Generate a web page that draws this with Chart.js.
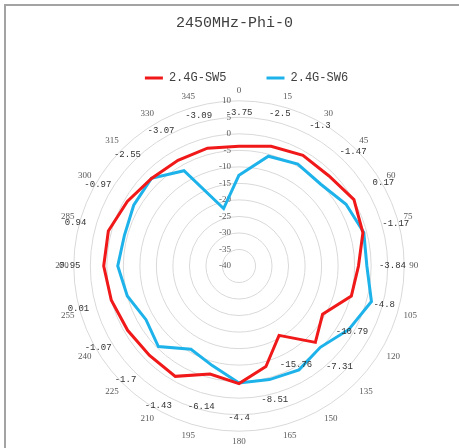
<!DOCTYPE html>
<html lang="en">
<head>
<meta charset="UTF-8">
<meta name="viewport" content="width=device-width, initial-scale=1.0">
<title>2450MHz-Phi-0</title>
<script src="https://cdn.jsdelivr.net/npm/chart.js"></script>
<style>
    html, body {
        margin: 0;
        padding: 0;
        background: #fff;
    }
    body {
        width: 459px;
        height: 448px;
        position: relative;
        overflow: hidden;
    }
    .frame {
        position: absolute;
        left: 4px;
        top: 4px;
        width: 500px;
        height: 500px;
        border-left: 2px solid #a3a3a3;
        border-top: 2px solid #a3a3a3;
    }
    .chart-box {
        position: absolute;
        left: 0;
        top: 0;
        width: 459px;
        height: 448px;
    }
</style>
</head>
<body>
<div class="frame"></div>
<div class="chart-box"><canvas id="phiChart"></canvas></div>

<script>
    // angles in degrees (category axis of the radar)
    const angles = ['0', '15', '30', '45', '60', '75', '90', '105', '120', '135', '150', '165',
                    '180', '195', '210', '225', '240', '255', '270', '285', '300', '315', '330', '345'];

    // gain in dB
    const sw5 = [-3.75, -2.5, -1.3, -1.47, 0.17, -1.17, -3.84, -4.8, -10.79, -7.31, -15.76, -8.51,
                 -4.4, -6.14, -1.43, -1.7, -1.07, 0.01, 0.95, 0.94, -0.97, -2.55, -3.07, -3.09];
    const sw6 = [-12.5, -5.6, -4.4, -5.0, -2.6, -0.9, -1.3, 1.5, -1.6, -5.2, -3.7, -4.4,
                 -4.6, -8.8, -10.9, -5.5, -7.5, -5.0, -3.3, -4.1, -3.2, -2.5, -6.7, -22.0];

    const rMin = -40;
    const rMax = 10;
    const rStep = 5;

    // value labels sit left of the 0 degree axis, data labels pushed out from the red line
    const textPlugin = {
        id: 'polarText',
        beforeInit(chart) {
            const fit = chart.legend.fit;
            chart.legend.fit = function () {
                fit.bind(chart.legend)();
                this.height = 53;
            };
        },
        afterLayout(chart) {
            // legend sits a bit right of the plot centre, title a bit left
            chart.legend.left += 7;
            chart.legend.right += 7;
            chart.titleBlock.left -= 5;
            chart.titleBlock.right -= 5;
        },
        beforeDatasetsDraw(chart) {
            const scale = chart.scales.r;
            const ctx = chart.ctx;
            ctx.save();
            ctx.font = '9px "Liberation Serif"';
            ctx.fillStyle = '#595959';
            ctx.textAlign = 'right';
            ctx.textBaseline = 'middle';
            scale.ticks.forEach(t => {
                const d = scale.getDistanceFromCenterForValue(t.value);
                ctx.fillText(String(t.value), scale.xCenter - 8, scale.yCenter - d);
            });
            ctx.restore();
        },
        afterDatasetsDraw(chart) {
            const scale = chart.scales.r;
            const ctx = chart.ctx;
            ctx.save();
            ctx.font = '9px "Liberation Mono"';
            ctx.fillStyle = '#333';
            ctx.textAlign = 'center';
            ctx.textBaseline = 'middle';
            sw5.forEach((v, i) => {
                const p = scale.getPointPosition(i, scale.getDistanceFromCenterForValue(v) + 34);
                ctx.fillText(String(v), p.x, p.y);
            });
            ctx.restore();
        }
    };

    const ctx = document.getElementById('phiChart').getContext('2d');
    const phiChart = new Chart(ctx, {
        type: 'radar',
        data: {
            labels: angles,
            datasets: [
                {
                    label: '2.4G-SW5',
                    data: sw5,
                    borderColor: '#f01818',
                    backgroundColor: '#f01818',
                    borderWidth: 3,
                    pointRadius: 0,
                    fill: false,
                    tension: 0
                },
                {
                    label: '2.4G-SW6',
                    data: sw6,
                    borderColor: '#1db3ea',
                    backgroundColor: '#1db3ea',
                    borderWidth: 3,
                    pointRadius: 0,
                    fill: false,
                    tension: 0
                }
            ]
        },
        options: {
            responsive: true,
            maintainAspectRatio: false,
            animation: false,
            devicePixelRatio: 1,
            layout: {
                padding: { left: 20, right: 0, top: 0, bottom: 0 }
            },
            plugins: {
                title: {
                    display: true,
                    text: '2450MHz-Phi-0',
                    color: '#404040',
                    font: { family: 'Liberation Mono', size: 15, weight: 'normal' },
                    padding: { top: 14, bottom: 0 }
                },
                legend: {
                    position: 'top',
                    labels: {
                        usePointStyle: true,
                        pointStyle: 'line',
                        pointStyleWidth: 18,
                        color: '#404040',
                        font: { family: 'Liberation Mono', size: 12 },
                        padding: 40
                    }
                },
                tooltip: { enabled: false }
            },
            scales: {
                r: {
                    min: rMin,
                    max: rMax,
                    ticks: { stepSize: rStep, display: false },
                    grid: { circular: true, color: '#d9d9d9', lineWidth: 1 },
                    angleLines: { display: false },
                    pointLabels: {
                        color: '#595959',
                        font: { family: 'Liberation Serif', size: 9 },
                        padding: 5
                    }
                }
            }
        },
        plugins: [textPlugin]
    });
</script>
</body>
</html>
